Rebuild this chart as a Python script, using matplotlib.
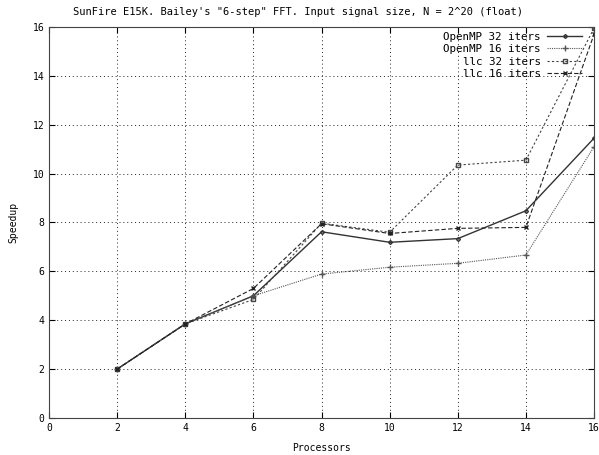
import matplotlib
matplotlib.use("Agg")
import matplotlib.pyplot as plt

procs = [2, 4, 6, 8, 10, 12, 14, 16]
openmp_32 = [2.0, 3.85, 5.0, 7.62, 7.19, 7.34, 8.48, 11.45]
openmp_16 = [2.0, 3.85, 5.0, 5.89, 6.17, 6.33, 6.67, 11.1]
llc_32 = [2.0, 3.85, 4.85, 7.97, 7.6, 10.35, 10.55, 15.95]
llc_16 = [2.0, 3.85, 5.3, 7.95, 7.55, 7.76, 7.8, 15.7]

labels = ["OpenMP 32 iters", "OpenMP 16 iters", "llc 32 iters", "llc 16 iters"]

plt.rcParams["font.family"] = "DejaVu Sans Mono"
plt.rcParams["font.size"] = 7

fig = plt.figure(figsize=(5.99, 4.55), dpi=100)
ax = fig.add_axes([0.0818, 0.0813, 0.9099, 0.8594])

ax.plot(procs, openmp_32, color="#333333", lw=1.0, ls="-", marker="D", ms=2,
        mfc="none", label=labels[0])
ax.plot(procs, openmp_16, color="#555555", lw=0.8, ls=(0, (1, 1)), marker="+", ms=4,
        label=labels[1])
ax.plot(procs, llc_32, color="#444444", lw=0.8, ls=(0, (2, 2)), marker="s", ms=3,
        mfc="none", label=labels[2])
ax.plot(procs, llc_16, color="#222222", lw=0.8, ls=(0, (4, 2)), marker="x", ms=3,
        label=labels[3])

ax.set_xlim(0, 16)
ax.set_ylim(0, 16)
ax.set_xticks(range(0, 17, 2))
ax.set_yticks(range(0, 17, 2))
ax.grid(True, ls=(0, (1, 3)), color="#222222", lw=0.7)
ax.tick_params(direction="in", top=True, right=True, length=4, labelsize=7)
for s in ax.spines.values():
    s.set_color("#444444")

ax.set_xlabel("Processors", labelpad=7)
ax.set_ylabel("Speedup", labelpad=10)
# gnuplot centres the title on the whole canvas
fig.text(0.497, 0.974,
         'SunFire E15K. Bailey\'s "6-step" FFT. Input signal size, N = 2^20 (float)',
         fontsize=7.5, ha="center", va="center")

leg = ax.legend(loc="upper right", bbox_to_anchor=(0.987, 1.0), frameon=False,
                markerfirst=False, fontsize=7.8, handlelength=3.2,
                borderaxespad=0.15, labelspacing=0.22, handletextpad=0.6,
                borderpad=0.3)

fig.savefig("out.png", dpi=100)
